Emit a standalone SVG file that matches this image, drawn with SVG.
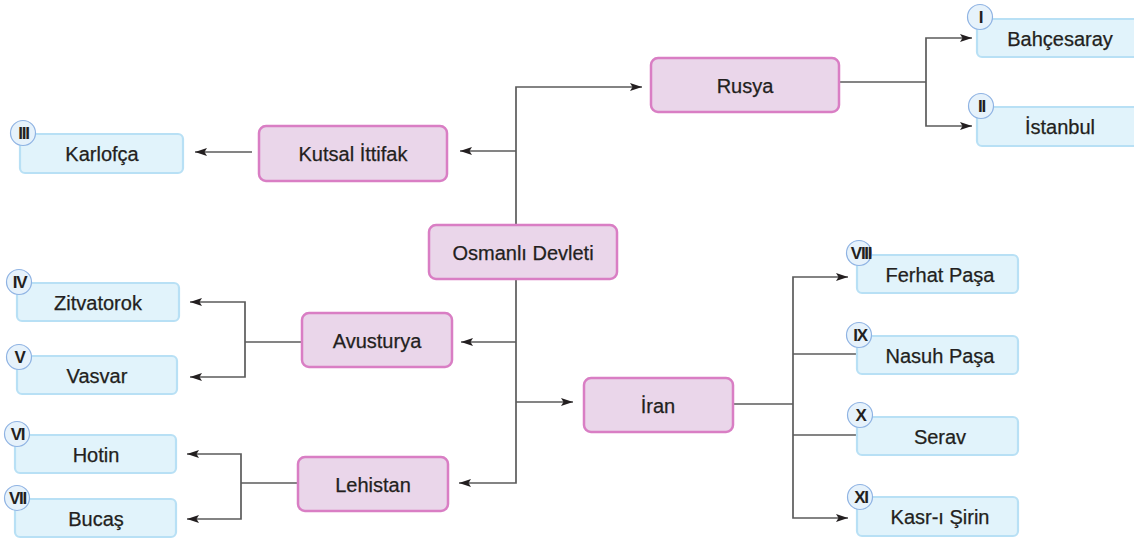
<svg xmlns="http://www.w3.org/2000/svg" width="1134" height="541" viewBox="0 0 1134 541">
<defs>
<marker id="ah" markerUnits="userSpaceOnUse" markerWidth="13" markerHeight="9" refX="12" refY="4.5" orient="auto">
<path d="M0,0.5 L12,4.5 L0,8.5 L2.5,4.5 z" fill="#231f20"/>
</marker>
<style>
.c{fill:none;stroke:#5b5b5b;stroke-width:1.7}
.a{marker-end:url(#ah)}
.p rect{fill:#ead6ea;stroke:#d97ec4;stroke-width:2.5}
.b rect{fill:#e1f3fb;stroke:#b8e0f5;stroke-width:2.2}
text{font-family:"Liberation Sans",Arial,sans-serif;fill:#231f20}
.t{font-size:20px;text-anchor:middle;stroke:#231f20;stroke-width:0.25}
.n circle{fill:#e6f2fb;stroke:#8fb3e3;stroke-width:1.2}
.n text{font-size:17px;font-weight:bold;letter-spacing:-1.3px;text-anchor:middle}
</style>
</defs>
<g id="connectors">
<path class="c a" d="M516,225 V87 H642"/>
<path class="c a" d="M516,151 H460"/>
<path class="c a" d="M516,279 V483 H459"/>
<path class="c a" d="M516,342 H461"/>
<path class="c a" d="M516,402 H573"/>
<path class="c a" d="M252,152 H195"/>
<path class="c" d="M839,82 H926"/>
<path class="c a" d="M926,82 V38 H972"/>
<path class="c a" d="M926,82 V126 H972"/>
<path class="c" d="M302,342 H245"/>
<path class="c a" d="M245,342 V302 H190"/>
<path class="c a" d="M245,342 V377 H190"/>
<path class="c" d="M298,483 H241"/>
<path class="c a" d="M241,483 V454 H187"/>
<path class="c a" d="M241,483 V519 H187"/>
<path class="c" d="M733,404 H793"/>
<path class="c a" d="M793,404 V277 H848"/>
<path class="c a" d="M793,404 V518 H848"/>
<path class="c" d="M793,354 H857"/>
<path class="c" d="M793,435 H857"/>
</g>
<g id="osmanli" class="p"><rect x="429" y="225" width="188" height="54" rx="7"/><text class="t" x="523" y="260">Osmanlı Devleti</text></g>
<g id="rusya" class="p"><rect x="651" y="58" width="188" height="54" rx="7"/><text class="t" x="745" y="93">Rusya</text></g>
<g id="kutsal" class="p"><rect x="259" y="126" width="188" height="55" rx="7"/><text class="t" x="353" y="161">Kutsal İttifak</text></g>
<g id="avusturya" class="p"><rect x="302" y="313" width="150" height="54" rx="7"/><text class="t" x="377" y="348">Avusturya</text></g>
<g id="lehistan" class="p"><rect x="298" y="457" width="150" height="54" rx="7"/><text class="t" x="373" y="492">Lehistan</text></g>
<g id="iran" class="p"><rect x="584" y="378" width="149" height="54" rx="7"/><text class="t" x="658" y="413">İran</text></g>

<g id="bahcesaray" class="b"><rect x="977" y="19" width="166" height="38" rx="5"/><text class="t" x="1060" y="46">Bahçesaray</text></g>
<g id="istanbul" class="b"><rect x="977" y="107" width="166" height="39" rx="5"/><text class="t" x="1060" y="134">İstanbul</text></g>
<g id="karlofca" class="b"><rect x="20" y="134" width="163" height="39" rx="5"/><text class="t" x="102" y="161">Karlofça</text></g>
<g id="zitvatorok" class="b"><rect x="17" y="283" width="162" height="38" rx="5"/><text class="t" x="98" y="310">Zitvatorok</text></g>
<g id="vasvar" class="b"><rect x="17" y="356" width="160" height="38" rx="5"/><text class="t" x="97" y="383">Vasvar</text></g>
<g id="hotin" class="b"><rect x="15" y="435" width="161" height="38" rx="5"/><text class="t" x="96" y="462">Hotin</text></g>
<g id="bucas" class="b"><rect x="15" y="499" width="161" height="38" rx="5"/><text class="t" x="96" y="526">Bucaş</text></g>
<g id="ferhat" class="b"><rect x="857" y="255" width="161" height="38" rx="5"/><text class="t" x="940" y="282">Ferhat Paşa</text></g>
<g id="nasuh" class="b"><rect x="857" y="336" width="161" height="38" rx="5"/><text class="t" x="940" y="363">Nasuh Paşa</text></g>
<g id="serav" class="b"><rect x="857" y="417" width="161" height="38" rx="5"/><text class="t" x="940" y="444">Serav</text></g>
<g id="kasr" class="b"><rect x="857" y="497" width="161" height="39" rx="5"/><text class="t" x="940" y="524">Kasr-ı Şirin</text></g>

<g id="num-I" class="n"><circle cx="980" cy="17" r="12.5"/><text x="980.5" y="23">I</text></g>
<g id="num-II" class="n"><circle cx="981" cy="106" r="12.5"/><text x="981.5" y="112">II</text></g>
<g id="num-III" class="n"><circle cx="23" cy="133" r="12.5"/><text x="23.5" y="139">III</text></g>
<g id="num-IV" class="n"><circle cx="19" cy="282" r="12.5"/><text x="19.5" y="288">IV</text></g>
<g id="num-V" class="n"><circle cx="19" cy="357" r="12.5"/><text x="19.5" y="363">V</text></g>
<g id="num-VI" class="n"><circle cx="17" cy="434" r="12.5"/><text x="17.5" y="440">VI</text></g>
<g id="num-VII" class="n"><circle cx="17" cy="498" r="12.5"/><text x="17.5" y="504">VII</text></g>
<g id="num-VIII" class="n"><circle cx="859" cy="253" r="12.5"/><text x="861" y="259">VIII</text></g>
<g id="num-IX" class="n"><circle cx="859" cy="335" r="12.5"/><text x="860" y="341">IX</text></g>
<g id="num-X" class="n"><circle cx="860" cy="415" r="12.5"/><text x="860.5" y="421">X</text></g>
<g id="num-XI" class="n"><circle cx="860" cy="497" r="12.5"/><text x="861" y="503">XI</text></g>
</svg>
